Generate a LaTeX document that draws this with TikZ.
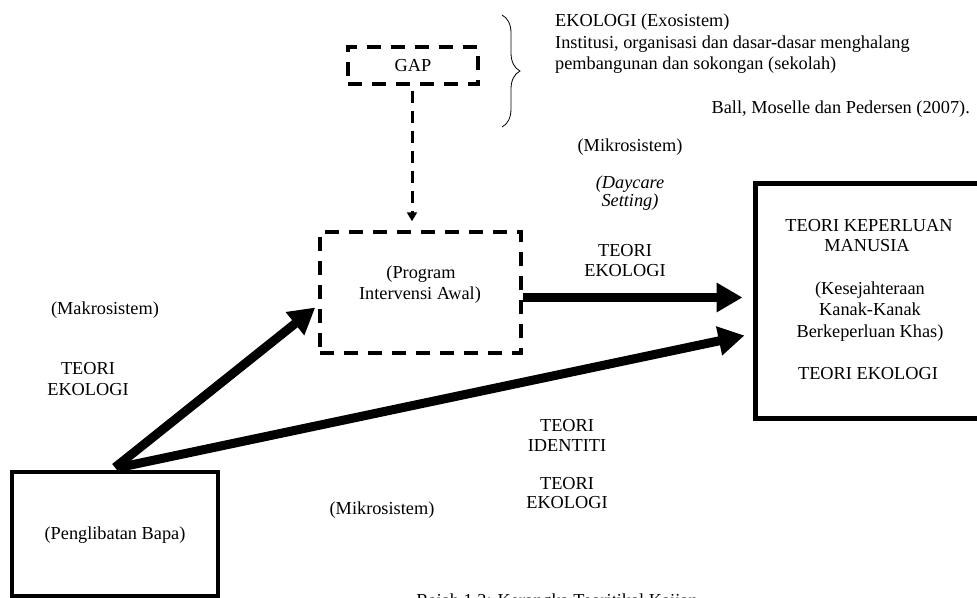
\documentclass[tikz,border=0pt]{standalone}
\usepackage{fontspec}
\setmainfont{Liberation Serif}
\usetikzlibrary{arrows.meta,decorations.pathreplacing}
\begin{document}
\begin{tikzpicture}[x=1pt,y=-1pt,
  t/.style={font=\fontsize{18.3}{22}\selectfont, inner sep=0pt, anchor=base},
  tl/.style={t, anchor=base west},
  tr/.style={t, anchor=base east},
  solidbox/.style={draw, line width=4pt, inner sep=0pt},
  dashbox/.style={draw, line width=3.5pt, dash pattern=on 14pt off 10pt, inner sep=0pt},
  bigarrow/.style={line width=9pt, -{Triangle[length=26pt,width=28pt]}},
  dasharrow/.style={line width=3pt, dash pattern=on 12pt off 8pt, -{Triangle[length=9pt,width=10pt]}},
]
\useasboundingbox (0,0) rectangle (977,597);
\clip (0,0) rectangle (977,597);

% boxes
\node[dashbox, minimum width=130pt, minimum height=37pt] (gap) at (413,65.5) {};
\node[t] (gaptxt) at (413,71) {GAP};
\node[dashbox, minimum width=201pt, minimum height=121pt] (prog) at (420.5,292.5) {};
\node[solidbox, minimum width=206pt, minimum height=124pt] (dad) at (115,533.5) {};
\node[solidbox, line width=5pt, minimum width=240pt, minimum height=235pt] (need) at (875,300.5) {};

% brace
\draw[line width=0.8pt, decorate, decoration={brace, amplitude=18pt}] (502,15) -- (502,127);

% connectors
\draw[dasharrow, shorten <=5pt, shorten >=9pt] ([xshift=-1pt]gap.south) -- ([xshift=-1pt]gap.south |- prog.north);
\draw[bigarrow] ([yshift=-5pt]prog.east) -- ([xshift=-10pt,yshift=3pt]need.west);
\draw[bigarrow] ([yshift=2pt]dad.north) -- ([xshift=-3pt,yshift=-15pt]prog.west);
\draw[bigarrow] ([xshift=4pt,yshift=2pt]dad.north) -- ([xshift=-8pt,yshift=-35pt]need.west);

% texts
\node[tl] (exo1) at (555,26) {EKOLOGI (Exosistem)};
\node[tl] (exo2) at (555,48) {Institusi, organisasi dan dasar-dasar menghalang};
\node[tl] (exo3) at (555,69) {pembangunan dan sokongan (sekolah)};
\node[tr] (ball) at (970,113) {Ball, Moselle dan Pedersen (2007).};

\node[t] (mik1) at (630,151) {(Mikrosistem)};
\node[t] (day1) at (630,188) {\itshape (Daycare};
\node[t] (day2) at (630,206) {\itshape Setting)};
\node[t] (te1a) at (625,256) {TEORI};
\node[t] (te1b) at (625,276) {EKOLOGI};

\node[t] (prg1) at (421,278) {(Program};
\node[t] (prg2) at (420,299) {Intervensi Awal)};

\node[t] (nd1) at (869,231) {TEORI KEPERLUAN};
\node[t] (nd2) at (867,251) {MANUSIA};
\node[t] (nd3) at (870,294) {(Kesejahteraan};
\node[t] (nd4) at (870,315) {Kanak-Kanak};
\node[t] (nd5) at (870,337) {Berkeperluan Khas)};
\node[t] (nd6) at (868,379) {TEORI EKOLOGI};

\node[t] (mak) at (105,314) {(Makrosistem)};
\node[t] (te2a) at (88,374) {TEORI};
\node[t] (te2b) at (88,395) {EKOLOGI};

\node[t] (dadtxt) at (115,539) {(Penglibatan Bapa)};

\node[t] (id1) at (567,431) {TEORI};
\node[t] (id2) at (567,451) {IDENTITI};
\node[t] (te3a) at (567,489) {TEORI};
\node[t] (te3b) at (567,508) {EKOLOGI};
\node[t] (mik2) at (382,514) {(Mikrosistem)};

\node[t] (cap) at (557,606) {Rajah 1.2: Kerangka Teoritikal Kajian};
\end{tikzpicture}
\end{document}
